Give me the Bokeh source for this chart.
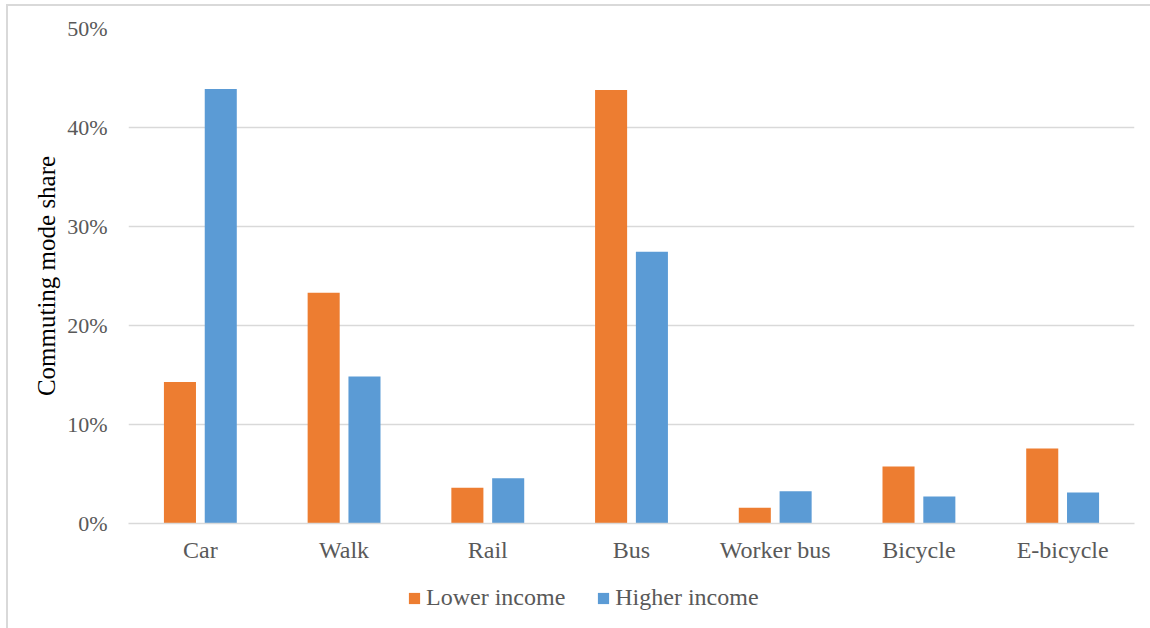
from bokeh.plotting import figure
from bokeh.layouts import column
from bokeh.models import (FactorRange, Range1d, NumeralTickFormatter, FixedTicker,
                          Legend, LegendItem, ColumnDataSource)
from bokeh.transform import dodge
from bokeh.embed import file_html
from bokeh.resources import INLINE

# Commuting mode share by income group
modes = ["Car", "Walk", "Rail", "Bus", "Worker bus", "Bicycle", "E-bicycle"]
lower_income = [0.143, 0.233, 0.036, 0.438, 0.016, 0.0575, 0.0757]
higher_income = [0.439, 0.1485, 0.0457, 0.2745, 0.0326, 0.0272, 0.0313]
series_names = ["Lower income", "Higher income"]
y_ticks = [0.0, 0.1, 0.2, 0.3, 0.4, 0.5]

ORANGE = "#ED7D31"
BLUE = "#5B9BD5"
GREY_TEXT = "#595959"
GRID = "#d9d9d9"
FONT = "Liberation Serif"

W = 1142

src = ColumnDataSource(dict(mode=modes, lower=lower_income, higher=higher_income))

p = figure(
    x_range=FactorRange(*modes),
    y_range=Range1d(0, 0.5),
    width=W, height=566,
    output_backend="svg",
    toolbar_location=None,
    min_border_left=120, min_border_right=16,
    min_border_top=22, min_border_bottom=49,
)

p.vbar(x=dodge("mode", -0.142, range=p.x_range), top="lower", width=0.223,
       source=src, fill_color=ORANGE, line_color=None)
p.vbar(x=dodge("mode", 0.142, range=p.x_range), top="higher", width=0.223,
       source=src, fill_color=BLUE, line_color=None)

p.outline_line_color = None
p.background_fill_color = "white"
p.border_fill_color = "white"

# grid
p.xgrid.grid_line_color = None
p.ygrid.grid_line_color = GRID
p.ygrid.grid_line_width = 1.4
p.ygrid.ticker = FixedTicker(ticks=y_ticks)

# y axis
p.yaxis.ticker = FixedTicker(ticks=y_ticks)
p.yaxis.formatter = NumeralTickFormatter(format="0%")
p.yaxis.axis_line_color = None
p.yaxis.major_tick_line_color = None
p.yaxis.minor_tick_line_color = None
p.yaxis.major_tick_out = 0
p.yaxis.major_tick_in = 0
p.yaxis.major_label_standoff = 21
p.yaxis.major_label_text_font = FONT
p.yaxis.major_label_text_font_size = "22px"
p.yaxis.major_label_text_color = GREY_TEXT
p.yaxis.axis_label = "Commuting mode share"
p.yaxis.axis_label_text_font = FONT
p.yaxis.axis_label_text_font_size = "25px"
p.yaxis.axis_label_text_font_style = "normal"
p.yaxis.axis_label_text_color = "black"
p.yaxis.axis_label_standoff = 4

# x axis
p.xaxis.axis_line_color = GRID
p.xaxis.axis_line_width = 1.6
p.xaxis.major_tick_line_color = None
p.xaxis.major_tick_out = 0
p.xaxis.major_tick_in = 0
p.xaxis.major_label_standoff = 13
p.xaxis.major_label_text_font = FONT
p.xaxis.major_label_text_font_size = "24px"
p.xaxis.major_label_text_color = GREY_TEXT

# legend strip underneath the chart; its keys are zero-height copies of the bars
LH = 56
lg = figure(
    x_range=p.x_range, y_range=Range1d(0, 1),
    width=W, height=LH,
    output_backend="svg",
    toolbar_location=None,
    x_axis_location=None, y_axis_location=None,
    min_border=0,
)
lg.outline_line_color = None
lg.grid.grid_line_color = None
lg.border_fill_color = "white"
lg.background_fill_color = "white"
k_low = lg.vbar(x=dodge("mode", -0.142, range=p.x_range), bottom="lower", top="lower",
                width=0.223, source=src, fill_color=ORANGE, line_color=None)
k_high = lg.vbar(x=dodge("mode", 0.142, range=p.x_range), bottom="higher", top="higher",
                 width=0.223, source=src, fill_color=BLUE, line_color=None)

legend = Legend(
    items=[LegendItem(label=series_names[0], renderers=[k_low]),
           LegendItem(label=series_names[1], renderers=[k_high])],
    orientation="horizontal",
    location=(279, 17),
    glyph_width=14, glyph_height=14,
    label_standoff=5, spacing=31,
    padding=0, margin=0,
    label_height=24,
    label_text_font=FONT, label_text_font_size="24px", label_text_color=GREY_TEXT,
    border_line_color=None, background_fill_alpha=0,
)
lg.add_layout(legend, "center")

page = column(p, lg, spacing=0)
page.styles = {
    "margin-left": "6px",
    "margin-top": "4px",
    "border-left": f"2px solid {GRID}",
    "border-top": f"2px solid {GRID}",
}

open("out.html", "w").write(file_html(page, INLINE))
